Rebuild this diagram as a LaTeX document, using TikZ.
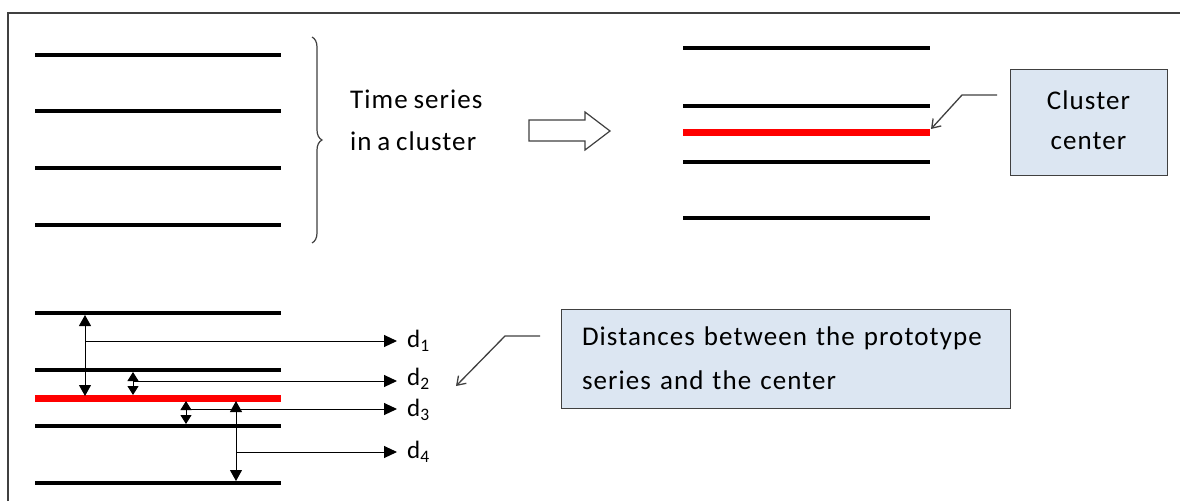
\documentclass[tikz,border=0pt]{standalone}
\usepackage{fontspec}
\setmainfont{Carlito}[LetterSpace=4,WordSpace=0.8]
\usetikzlibrary{arrows.meta,decorations.pathreplacing}
\definecolor{framegray}{HTML}{404040}
\definecolor{boxfill}{HTML}{DCE6F2}
\definecolor{centerred}{HTML}{FF0000}
\begin{document}
\begin{tikzpicture}[x=1pt,y=-1pt,
  series/.style={line width=4.5pt},
  redline/.style={line width=7pt, draw=centerred},
  note/.style={draw=framegray, fill=boxfill, line width=1pt, inner sep=0pt},
  callout/.style={draw=framegray, line width=1.3pt, -{Straight Barb[length=8pt,width=11pt]}},
  dist/.style={line width=1pt, -{Triangle[length=13pt,width=12pt]}},
  dbl/.style={line width=1pt, {Triangle[length=11pt,width=12pt]}-{Triangle[length=11pt,width=12pt]}},
  dblshort/.style={line width=1pt, {Triangle[length=9pt,width=11pt]}-{Triangle[length=9pt,width=11pt]}},
  txt/.style={font=\fontsize{27}{42}\selectfont, inner sep=0pt},
  dlabel/.style={font=\fontsize{25}{28}\selectfont, inner sep=0pt, anchor=west},
]
\useasboundingbox (0,0) rectangle (1180,501);
\fill[white] (0,0) rectangle (1180,501);

% outer frame (left and top edges)
\draw[framegray, line width=1.5pt] (8,501) -- (8,13) -- (1180,13);

% --- top left: the time series of one cluster
\foreach \y in {55,111,168,225}
  \draw[series] (35,\y) -- (281,\y);
\draw[framegray, line width=1.2pt, decorate,
      decoration={brace, amplitude=10pt, aspect=0.5}]
  (312,37) -- (312,243);
\node[txt, anchor=west, align=left] (ts) at (350,120) {Time series\\in a cluster};

% hollow block arrow
\draw[framegray, line width=1.2pt, fill=white]
  (529,120) -- (585,120) -- (585,112) -- (610,131) -- (585,150) -- (585,141) -- (529,141) -- cycle;

% --- top right: series with their cluster center
\foreach \y in {48,106,162,218}
  \draw[series] (683,\y) -- (930,\y);
\draw[redline] (683,132) -- (930,132);
\coordinate (cend) at (931,129);

\node[note, minimum width=157pt, minimum height=106pt, align=center,
      font=\fontsize{27}{40}\selectfont] (cc) at (1088.5,122) {\raisebox{4pt}{Cluster}\\\raisebox{4pt}{center}};
\coordinate (c1) at (997,95);
\draw[callout] (c1) -- (962,95) -- (cend);

% --- bottom: distances from each series to the center
\foreach \y in {313,370,426,483}
  \draw[series] (35,\y) -- (281,\y);
\draw[redline] (35,398) -- (281,398);

\node[dlabel] (d1) at (407,341) {d\textsubscript{1}};
\node[dlabel] (d2) at (407,379) {d\textsubscript{2}};
\node[dlabel] (d3) at (407,410) {d\textsubscript{3}};
\node[dlabel] (d4) at (407,452) {d\textsubscript{4}};

\coordinate (a1) at (85,341);
\coordinate (a2) at (133,381);
\coordinate (a3) at (186,409);
\coordinate (a4) at (236,452);

\draw[dbl] (85,315) -- (85,396);
\draw[dblshort] (133,372) -- (133,395);
\draw[dblshort] (186,401) -- (186,424);
\draw[dbl] (236,401) -- (236,481);

\draw[dist] (a1) -- ([xshift=-10pt]a1 -| d1.west);
\draw[dist] (a2) -- ([xshift=-10pt]a2 -| d2.west);
\draw[dist] (a3) -- ([xshift=-10pt]a3 -| d3.west);
\draw[dist] (a4) -- ([xshift=-10pt]a4 -| d4.west);

\node[note, minimum width=449pt, minimum height=99pt, text width=407pt, align=left,
      font=\fontsize{27}{44}\selectfont] (dd) at (785.5,358.5)
  {Distances between the prototype\\series and the center};
\coordinate (c2) at (540,336);
\coordinate (c2end) at (456,386);
\draw[callout] (c2) -- (505,336) -- (c2end);
\end{tikzpicture}
\end{document}
